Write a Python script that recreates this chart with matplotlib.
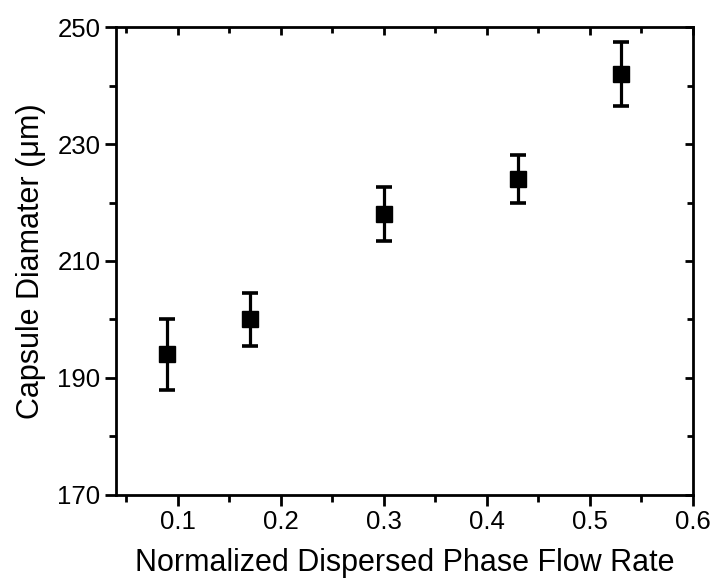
import matplotlib
matplotlib.use("Agg")
import matplotlib.pyplot as plt
from matplotlib.ticker import MultipleLocator

plt.rcParams["font.family"] = ["Liberation Sans", "DejaVu Sans"]

# flow rate vs capsule diameter
flow_rate = [0.09, 0.17, 0.30, 0.43, 0.53]
diameter = [194, 200, 218, 224, 242]
diameter_err = [6.0, 4.6, 4.6, 4.1, 5.4]

x_ticks = [0.1, 0.2, 0.3, 0.4, 0.5, 0.6]
x_labels = ["0.1", "0.2", "0.3", "0.4", "0.5", "0.6"]
y_ticks = [170, 190, 210, 230, 250]

pos = [0.162, 0.147, 0.807, 0.806]
fig = plt.figure(figsize=(7.15, 5.8), dpi=100)
ax = fig.add_axes(pos)

ax.errorbar(flow_rate, diameter, yerr=diameter_err, fmt="s", color="black",
            markersize=12, elinewidth=2.3, capsize=6, capthick=2.6)

ax.set_xlim(0.04, 0.6)
ax.set_ylim(170, 250)
ax.set_xticks(x_ticks)
ax.set_xticklabels(x_labels)
ax.xaxis.set_minor_locator(MultipleLocator(0.05))
ax.set_yticks(y_ticks)
ax.yaxis.set_minor_locator(MultipleLocator(10))

for s in ax.spines.values():
    s.set_linewidth(2)

ax.tick_params(which="both", direction="out", width=2, labelsize=18.5, pad=3)
ax.tick_params(which="major", length=8)
ax.tick_params(which="minor", length=5)

# inward ticks on top and right, no labels
ov = fig.add_axes(pos, frameon=False)
ov.set_xlim(ax.get_xlim())
ov.set_ylim(ax.get_ylim())
ov.set_xticks(x_ticks)
ov.xaxis.set_minor_locator(MultipleLocator(0.05))
ov.set_yticks(y_ticks)
ov.yaxis.set_minor_locator(MultipleLocator(10))
ov.xaxis.tick_top()
ov.yaxis.tick_right()
ov.tick_params(which="both", direction="in", width=2,
               labeltop=False, labelright=False)
ov.tick_params(which="major", length=6)
ov.tick_params(which="minor", length=4)

ax.set_xlabel("Normalized Dispersed Phase Flow Rate", fontsize=22, labelpad=10)
ax.set_ylabel("Capsule Diamater (\u03bcm)", fontsize=22, labelpad=8)

fig.savefig("out.png", dpi=100)
